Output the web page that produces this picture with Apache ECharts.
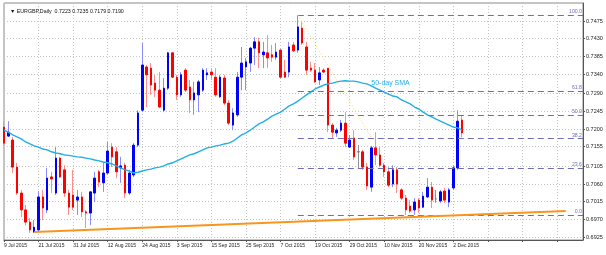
<!DOCTYPE html>
<html><head><meta charset="utf-8">
<script src="https://cdn.jsdelivr.net/npm/echarts@6/dist/echarts.min.js"></script>
<style>html,body{margin:0;padding:0;background:#fff}#c{width:606px;height:255px}</style>
</head><body><div id="c"></div>
<script>
// ---- data (EURGBP daily, 9 Jul 2015 .. 4 Dec 2015) ----
const opens = [
0.7205,0.7182,0.7172,0.7103,0.7037,0.6994,0.6963,0.6938,0.6943,0.7027,
0.6994,0.7078,0.7037,0.7126,0.7096,0.7037,0.7032,0.7019,0.7027,0.6989,
0.6986,0.7037,0.7091,0.7063,0.7088,0.7154,0.7142,0.7101,0.7108,0.7037,
0.7083,0.7159,0.7248,0.7358,0.7355,0.7317,0.7299,0.7248,0.7304,0.7394,
0.7332,0.7287,0.7350,0.7307,0.7274,0.7287,0.7299,0.7338,0.7345,0.7332,
0.7282,0.7330,0.7266,0.7210,0.7236,0.7332,0.7358,0.7368,0.7406,0.7422,
0.7389,0.7394,0.7389,0.7383,0.7401,0.7345,0.7345,0.7414,0.7401,0.7457,
0.7409,0.7355,0.7350,0.7325,0.7350,0.7355,0.7210,0.7190,0.7197,0.7215,
0.7154,0.7177,0.7142,0.7142,0.7103,0.7052,0.7152,0.7134,0.7108,0.7091,
0.7060,0.7096,0.7045,0.7024,0.7004,0.6994,0.7019,0.7001,0.7027,0.7052,
0.7022,0.7017,0.7042,0.7014,0.7050,0.7101,0.7223];
const highs = [
0.7220,0.7220,0.7180,0.7114,0.7045,0.7007,0.6973,0.6968,0.7042,0.7045,
0.7101,0.7091,0.7154,0.7129,0.7108,0.7045,0.7096,0.7045,0.7040,0.6994,
0.7042,0.7091,0.7096,0.7114,0.7167,0.7164,0.7154,0.7129,0.7114,0.7096,
0.7164,0.7248,0.7419,0.7363,0.7368,0.7338,0.7345,0.7330,0.7396,0.7396,
0.7338,0.7345,0.7355,0.7325,0.7320,0.7325,0.7355,0.7355,0.7355,0.7355,
0.7338,0.7338,0.7274,0.7253,0.7345,0.7409,0.7381,0.7409,0.7434,0.7432,
0.7422,0.7439,0.7414,0.7419,0.7404,0.7376,0.7422,0.7422,0.7490,0.7472,
0.7422,0.7371,0.7368,0.7358,0.7355,0.7355,0.7215,0.7203,0.7223,0.7243,
0.7185,0.7197,0.7159,0.7147,0.7114,0.7157,0.7192,0.7154,0.7114,0.7103,
0.7108,0.7103,0.7050,0.7032,0.7019,0.7024,0.7024,0.7040,0.7075,0.7065,
0.7045,0.7045,0.7050,0.7050,0.7108,0.7248,0.7235];
const lows = [
0.7157,0.7180,0.7088,0.7032,0.6976,0.6955,0.6935,0.6935,0.6938,0.6968,
0.6986,0.7037,0.7032,0.7075,0.7027,0.6981,0.6994,0.6981,0.6976,0.6948,
0.6955,0.7014,0.7052,0.7040,0.7083,0.7103,0.7075,0.7063,0.7024,0.7032,
0.7078,0.7154,0.7243,0.7256,0.7287,0.7282,0.7253,0.7243,0.7299,0.7330,
0.7274,0.7282,0.7294,0.7241,0.7236,0.7243,0.7294,0.7325,0.7325,0.7282,
0.7279,0.7261,0.7210,0.7197,0.7231,0.7299,0.7299,0.7345,0.7363,0.7355,
0.7355,0.7355,0.7371,0.7376,0.7330,0.7330,0.7332,0.7396,0.7394,0.7414,
0.7338,0.7345,0.7317,0.7312,0.7343,0.7192,0.7177,0.7180,0.7192,0.7154,
0.7152,0.7121,0.7101,0.7096,0.7045,0.7040,0.7108,0.7103,0.7078,0.7052,
0.7052,0.7037,0.7019,0.6981,0.6986,0.6981,0.6986,0.6999,0.7024,0.6999,
0.7012,0.7012,0.7012,0.7001,0.7045,0.7096,0.7179];
const closes = [
0.7164,0.7192,0.7103,0.7037,0.6994,0.6963,0.6943,0.6950,0.7027,0.6999,
0.7075,0.7073,0.7126,0.7078,0.7037,0.7001,0.7001,0.7027,0.6989,0.6986,
0.7040,0.7075,0.7065,0.7088,0.7144,0.7129,0.7091,0.7106,0.7037,0.7088,
0.7159,0.7241,0.7363,0.7338,0.7312,0.7299,0.7256,0.7304,0.7394,0.7332,
0.7287,0.7338,0.7299,0.7274,0.7292,0.7320,0.7350,0.7343,0.7338,0.7287,
0.7332,0.7266,0.7215,0.7241,0.7332,0.7368,0.7371,0.7406,0.7422,0.7394,
0.7396,0.7381,0.7383,0.7396,0.7332,0.7332,0.7409,0.7399,0.7460,0.7419,
0.7350,0.7350,0.7320,0.7343,0.7345,0.7210,0.7192,0.7197,0.7215,0.7164,
0.7172,0.7129,0.7142,0.7103,0.7055,0.7152,0.7134,0.7108,0.7091,0.7057,
0.7096,0.7060,0.7024,0.6994,0.6991,0.7014,0.6999,0.7029,0.7052,0.7019,
0.7022,0.7040,0.7019,0.7045,0.7101,0.7220,0.7190];
const sma50 = [
0.7197,0.7192,0.7185,0.7180,0.7175,0.7167,0.7162,0.7157,0.7154,0.7149,
0.7147,0.7142,0.7139,0.7137,0.7134,0.7133,0.7131,0.7129,0.7128,0.7126,
0.7124,0.7121,0.7119,0.7116,0.7114,0.7111,0.7106,0.7101,0.7096,0.7093,
0.7088,0.7090,0.7093,0.7096,0.7098,0.7101,0.7103,0.7106,0.7111,0.7114,
0.7119,0.7124,0.7129,0.7134,0.7137,0.7142,0.7147,0.7152,0.7154,0.7157,
0.7159,0.7162,0.7164,0.7169,0.7177,0.7185,0.7190,0.7197,0.7205,0.7213,
0.7218,0.7225,0.7233,0.7238,0.7243,0.7251,0.7259,0.7264,0.7271,0.7279,
0.7287,0.7294,0.7302,0.7307,0.7312,0.7315,0.7317,0.7320,0.7322,0.7323,
0.7322,0.7322,0.7320,0.7317,0.7315,0.7310,0.7304,0.7299,0.7294,0.7289,
0.7284,0.7282,0.7274,0.7269,0.7264,0.7256,0.7251,0.7243,0.7236,0.7231,
0.7225,0.7220,0.7215,0.7210,0.7205,0.7203,0.7197];
const xTickLabels = ['9 Jul 2015','21 Jul 2015','31 Jul 2015','12 Aug 2015','24 Aug 2015','3 Sep 2015','15 Sep 2015','25 Sep 2015','7 Oct 2015','19 Oct 2015','29 Oct 2015','10 Nov 2015','20 Nov 2015','2 Dec 2015'];
const yTickLabels = ['0.6925','0.6970','0.7015','0.7060','0.7105','0.7155','0.7200','0.7245','0.7290','0.7340','0.7385','0.7430','0.7475'];
const fibRatios = [0, 23.6, 38.2, 50, 61.8, 100];
const fibHigh = 0.7490, fibLow = 0.6981, fibStartIndex = 68;
const fibDiagonal = [[68, 0.7490], [85, 0.7178]];
const trendLine = [[7, 0.6938], [130, 0.6991]];
const bidPrice = 0.7190;
const symbolName = 'EURGBP,Daily';

// ---- build ----
const N = 135;
const cats = Array.from({length: N}, (_, i) => String(i));
const last = opens.length - 1;
const ohlc = opens.map((o, i) => [o, closes[i], lows[i], highs[i]]);
const bodies = opens.map((o, i) => [o, closes[i], Math.min(o, closes[i]), Math.max(o, closes[i])]);
const FONT = '"Liberation Sans", Arial, sans-serif';
const fibColor = '#6e6eb4';
const yTicks = yTickLabels.map(Number);

const fibData = fibRatios.map(r => {
  const v = fibLow + (fibHigh - fibLow) * r / 100;
  const lab = {show: true, formatter: r.toFixed(1), position: 'insideEndTop', distance: 1,
               color: fibColor, fontSize: 5.2, fontFamily: FONT, padding: 0};
  return [{coord: [String(fibStartIndex), v], label: lab}, {coord: [String(N - 1), v]}];
});

const chart = echarts.init(document.getElementById('c'), null, {renderer: 'canvas'});
chart.setOption({
  animation: false,
  backgroundColor: '#fff',
  title: {
    text: '\u25BC ' + symbolName + '  ' + [opens[last], highs[last], lows[last], closes[last]].map(v => v.toFixed(4)).join(' '),
    left: 5, top: 4,
    textStyle: {fontSize: 5.3, fontWeight: 'normal', color: '#111', fontFamily: FONT}
  },
  grid: {left: 4, right: 23, top: 3, bottom: 15, show: true, borderColor: '#8a8a8a', borderWidth: 1},
  xAxis: {
    type: 'category', data: cats, boundaryGap: false,
    axisLine: {show: true, lineStyle: {color: '#555'}},
    axisTick: {show: true, interval: 7, length: 2, lineStyle: {color: '#555'}},
    axisLabel: {interval: 7, align: 'left', margin: 3, fontSize: 5, color: '#222', fontFamily: FONT,
      formatter: (v, idx) => (idx % 8 === 0 && xTickLabels[idx / 8]) ? xTickLabels[idx / 8] : ''},
    splitLine: {show: true, interval: 7, lineStyle: {type: [1, 2], color: '#c4c4c4'}}
  },
  yAxis: {
    type: 'value', position: 'right', min: 0.69174, max: 0.75209, scale: true,
    axisLine: {show: true, lineStyle: {color: '#555'}},
    axisTick: {show: true, customValues: yTicks, length: 2, lineStyle: {color: '#555'}},
    axisLabel: {customValues: yTicks, formatter: v => v.toFixed(4), fontSize: 5.5, color: '#222', margin: 3, fontFamily: FONT},
    splitLine: {show: true, lineStyle: {type: [1, 2], color: '#c4c4c4'}}
  },
  series: [
    {
      name: 'annotations', type: 'line', data: [], z: 1, silent: true,
      markLine: {
        silent: true, symbol: ['none', 'none'], animation: false,
        data: [
          [{yAxis: bidPrice, lineStyle: {color: '#c8c8c8', width: 1, type: 'solid'},
            label: {show: true, position: 'end', distance: 1, formatter: bidPrice.toFixed(4), color: '#fff',
                    backgroundColor: '#000', padding: [1, 2, 1, 2], fontSize: 5.5, fontFamily: FONT}},
           {yAxis: bidPrice}],
          ...fibData.map(p => [{...p[0], lineStyle: {color: fibColor, width: 1.2, type: [6, 4]}}, p[1]]),
          [{coord: [String(fibDiagonal[0][0]), fibDiagonal[0][1]], lineStyle: {color: '#ffd966', width: 1, type: [1, 2]}, label: {show: false}},
           {coord: [String(fibDiagonal[1][0]), fibDiagonal[1][1]]}],
          [{coord: [String(trendLine[0][0]), trendLine[0][1]], lineStyle: {color: '#f7961e', width: 2, type: 'solid'}, label: {show: false}},
           {coord: [String(trendLine[1][0]), trendLine[1][1]]}]
        ]
      }
    },
    {
      name: 'wicks', type: 'candlestick', data: ohlc, z: 2, barWidth: 1,
      itemStyle: {color: '#8c8cff', color0: '#ff8c8c', borderColor: '#8c8cff', borderColor0: '#ff8c8c',
                  borderColorDoji: '#909090', borderWidth: 1}
    },
    {
      name: 'bodies', type: 'candlestick', data: bodies, z: 3, barWidth: 2,
      itemStyle: {color: '#0000ff', color0: '#ff0000', borderColor: '#0000ff', borderColor0: '#ff0000',
                  borderColorDoji: '#707070', borderWidth: 1}
    },
    {
      name: '50-day SMA', type: 'line', data: sma50, z: 4, showSymbol: false, symbol: 'none',
      lineStyle: {color: '#22aee8', width: 1.4},
      markPoint: {
        symbol: 'circle', symbolSize: 0, silent: true,
        label: {show: true, position: 'right', distance: 0, formatter: '50-day SMA', color: '#22aee8', fontSize: 7, fontFamily: FONT},
        data: [{coord: ['85', 0.7317]}]
      }
    }
  ]
});
</script>
</body></html>
